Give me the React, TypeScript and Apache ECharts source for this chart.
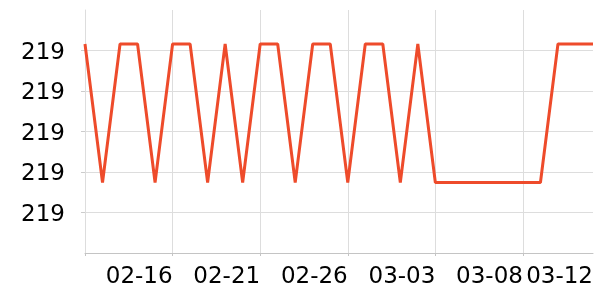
import React, { useEffect, useRef } from "react";
import * as echarts from "echarts";

// Daily categories 02-11 .. 03-12
const categories: string[] = [
  "02-11", "02-12", "02-13", "02-14", "02-15", "02-16", "02-17", "02-18", "02-19", "02-20",
  "02-21", "02-22", "02-23", "02-24", "02-25", "02-26", "02-27", "02-28", "03-01", "03-02",
  "03-03", "03-04", "03-05", "03-06", "03-07", "03-08", "03-09", "03-10", "03-11", "03-12",
];

const values: number[] = [
  219.258, 219.087, 219.258, 219.258, 219.087, 219.258, 219.258, 219.087, 219.258, 219.087,
  219.258, 219.258, 219.087, 219.258, 219.258, 219.087, 219.258, 219.258, 219.087, 219.258,
  219.087, 219.087, 219.087, 219.087, 219.087, 219.087, 219.087, 219.258, 219.258, 219.258,
];

const yMin = 219.0;
const yMax = 219.3;
const yInterval = 0.05;

export default function App() {
  const ref = useRef<HTMLDivElement>(null);

  useEffect(() => {
    if (!ref.current) return;
    const chart = echarts.init(ref.current, undefined, { renderer: "svg" });
    const font = "DejaVu Sans";
    const last = categories.length - 1;
    chart.setOption({
      animation: false,
      grid: { left: 85, right: 7, top: 10, bottom: 47, containLabel: false },
      xAxis: {
        type: "category",
        data: categories,
        boundaryGap: false,
        axisLine: { show: true, lineStyle: { color: "#c4c4c4", width: 1 } },
        axisTick: {
          show: true,
          length: 3,
          interval: (i: number) => i % 5 === 0,
          lineStyle: { color: "#c4c4c4" },
        },
        axisLabel: {
          interval: (i: number) => (i % 5 === 0 && i > 0) || i === last,
          align: "right",
          margin: 10,
          color: "#000",
          fontSize: 23,
          fontFamily: font,
        },
        splitLine: {
          show: true,
          interval: (i: number) => i % 5 === 0 && i > 0,
          lineStyle: { color: "#dddddd", width: 1 },
        },
      },
      yAxis: {
        type: "value",
        min: yMin,
        max: yMax,
        interval: yInterval,
        axisLine: { show: true, lineStyle: { color: "#dddddd", width: 1 } },
        axisTick: { show: true, length: 4, lineStyle: { color: "#cccccc" } },
        axisLabel: {
          showMinLabel: false,
          showMaxLabel: false,
          margin: 20,
          color: "#000",
          fontSize: 23,
          fontFamily: font,
          formatter: (v: number) => String(Math.round(v)),
        },
        splitLine: {
          show: true,
          showMinLine: false,
          showMaxLine: false,
          lineStyle: { color: "#dddddd", width: 1 },
        },
      },
      series: [
        {
          type: "line",
          data: values,
          showSymbol: false,
          symbol: "none",
          lineStyle: { color: "#ee4b2b", width: 3 },
          itemStyle: { color: "#ee4b2b" },
        },
      ],
    });
    return () => chart.dispose();
  }, []);

  return (
    <div
      ref={ref}
      style={{ position: "fixed", left: 0, top: 0, width: 600, height: 300 }}
    />
  );
}
